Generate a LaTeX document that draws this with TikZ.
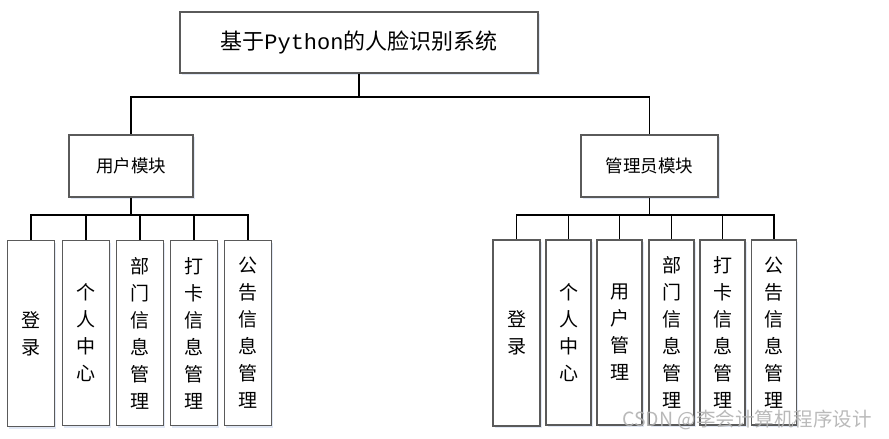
\documentclass[tikz,border=0pt]{standalone}
\usepackage{fontspec}
\usepackage{tikz}
\usetikzlibrary{positioning,calc,shadows}
\newfontfamily\cjk{Noto Sans CJK SC}
\newfontfamily\pymono{Liberation Mono}
\definecolor{box_border}{RGB}{90,90,90}
\definecolor{halo_color}{RGB}{170,190,225}

\begin{document}
\begin{tikzpicture}[
                x=1pt, y=-1pt,
                every node/.style={inner sep=0pt},
                boxshadow/.style={drop shadow={shadow xshift=1.5pt, shadow yshift=-2pt, fill=halo_color, opacity=0.35}},
                sysbox/.style={draw=box_border, fill=white, line width=1.3pt, boxshadow, minimum width=358pt, minimum height=61pt, font=\cjk\fontsize{22}{26}\selectfont},
                modbox/.style={draw=box_border, fill=white, line width=1.3pt, boxshadow, minimum height=62pt, font=\cjk\fontsize{17.5}{21}\selectfont},
                funcbox/.style={draw=box_border, fill=white, line width=1.3pt, boxshadow, minimum width=47pt, minimum height=185pt, align=center, font=\cjk\fontsize{19}{27}\selectfont},
                link/.style={black, line width=1.8pt}
            ]
                % Canvas
                \useasboundingbox (0,0) rectangle (889,439);
                
                % System root
                \node[sysbox] (sys) at (359,42.5) {基于{\pymono Python}的人脸识别系统};
                
                % Modules
                \node[modbox, minimum width=124pt] (user) at (131,166) {用户模块};
                \node[modbox, minimum width=137pt] (admin) at (649.5,166) {管理员模块};
                
                % User functions
                \node[funcbox, minimum height=186pt] (u1) at (31,333.5) {登\\录};
                \node[funcbox] (u2) at (86,333) {个\\人\\中\\心};
                \node[funcbox] (u3) at (140,333) {部\\门\\信\\息\\管\\理};
                \node[funcbox] (u4) at (194,333) {打\\卡\\信\\息\\管\\理};
                \node[funcbox] (u5) at (248,333) {公\\告\\信\\息\\管\\理};
                
                % Admin functions
                \node[funcbox, minimum height=186pt] (a1) at (516.5,333) {登\\录};
                \node[funcbox, minimum width=45pt] (a2) at (568.5,332.5) {个\\人\\中\\心};
                \node[funcbox, minimum width=45pt] (a3) at (619.5,332.5) {用\\户\\管\\理};
                \node[funcbox, minimum width=45pt] (a4) at (671.5,332.5) {部\\门\\信\\息\\管\\理};
                \node[funcbox, minimum width=45pt] (a5) at (722.5,332.5) {打\\卡\\信\\息\\管\\理};
                \node[funcbox, minimum width=45pt] (a6) at (774,332.5) {公\\告\\信\\息\\管\\理};
                
                % Bus points
                \coordinate (sysbus) at (359,97);
                \coordinate (userbus) at (131,215);
                \coordinate (adminbus) at (649.5,215);
                
                % Root to modules
                \draw[link] (sys.south) -- (sysbus) -| (user.north);
                \draw[link] (sysbus) -| (admin.north);
                
                % Modules to functions
                \draw[link] (user.south) -- (userbus);
                \foreach \i in {1,...,5} {
                    \draw[link] (userbus) -| (u\i.north);
                }
                \draw[link] (admin.south) -- (adminbus);
                \foreach \i in {1,...,6} {
                    \draw[link] (adminbus) -| (a\i.north);
                }
                
                % Watermark
                \node[anchor=west, text=gray!60, opacity=0.9, font=\cjk\fontsize{19.5}{22}\selectfont] (mark) at (622,420) {CSDN @李会计算机程序设计};
            \end{tikzpicture}
\end{document}
